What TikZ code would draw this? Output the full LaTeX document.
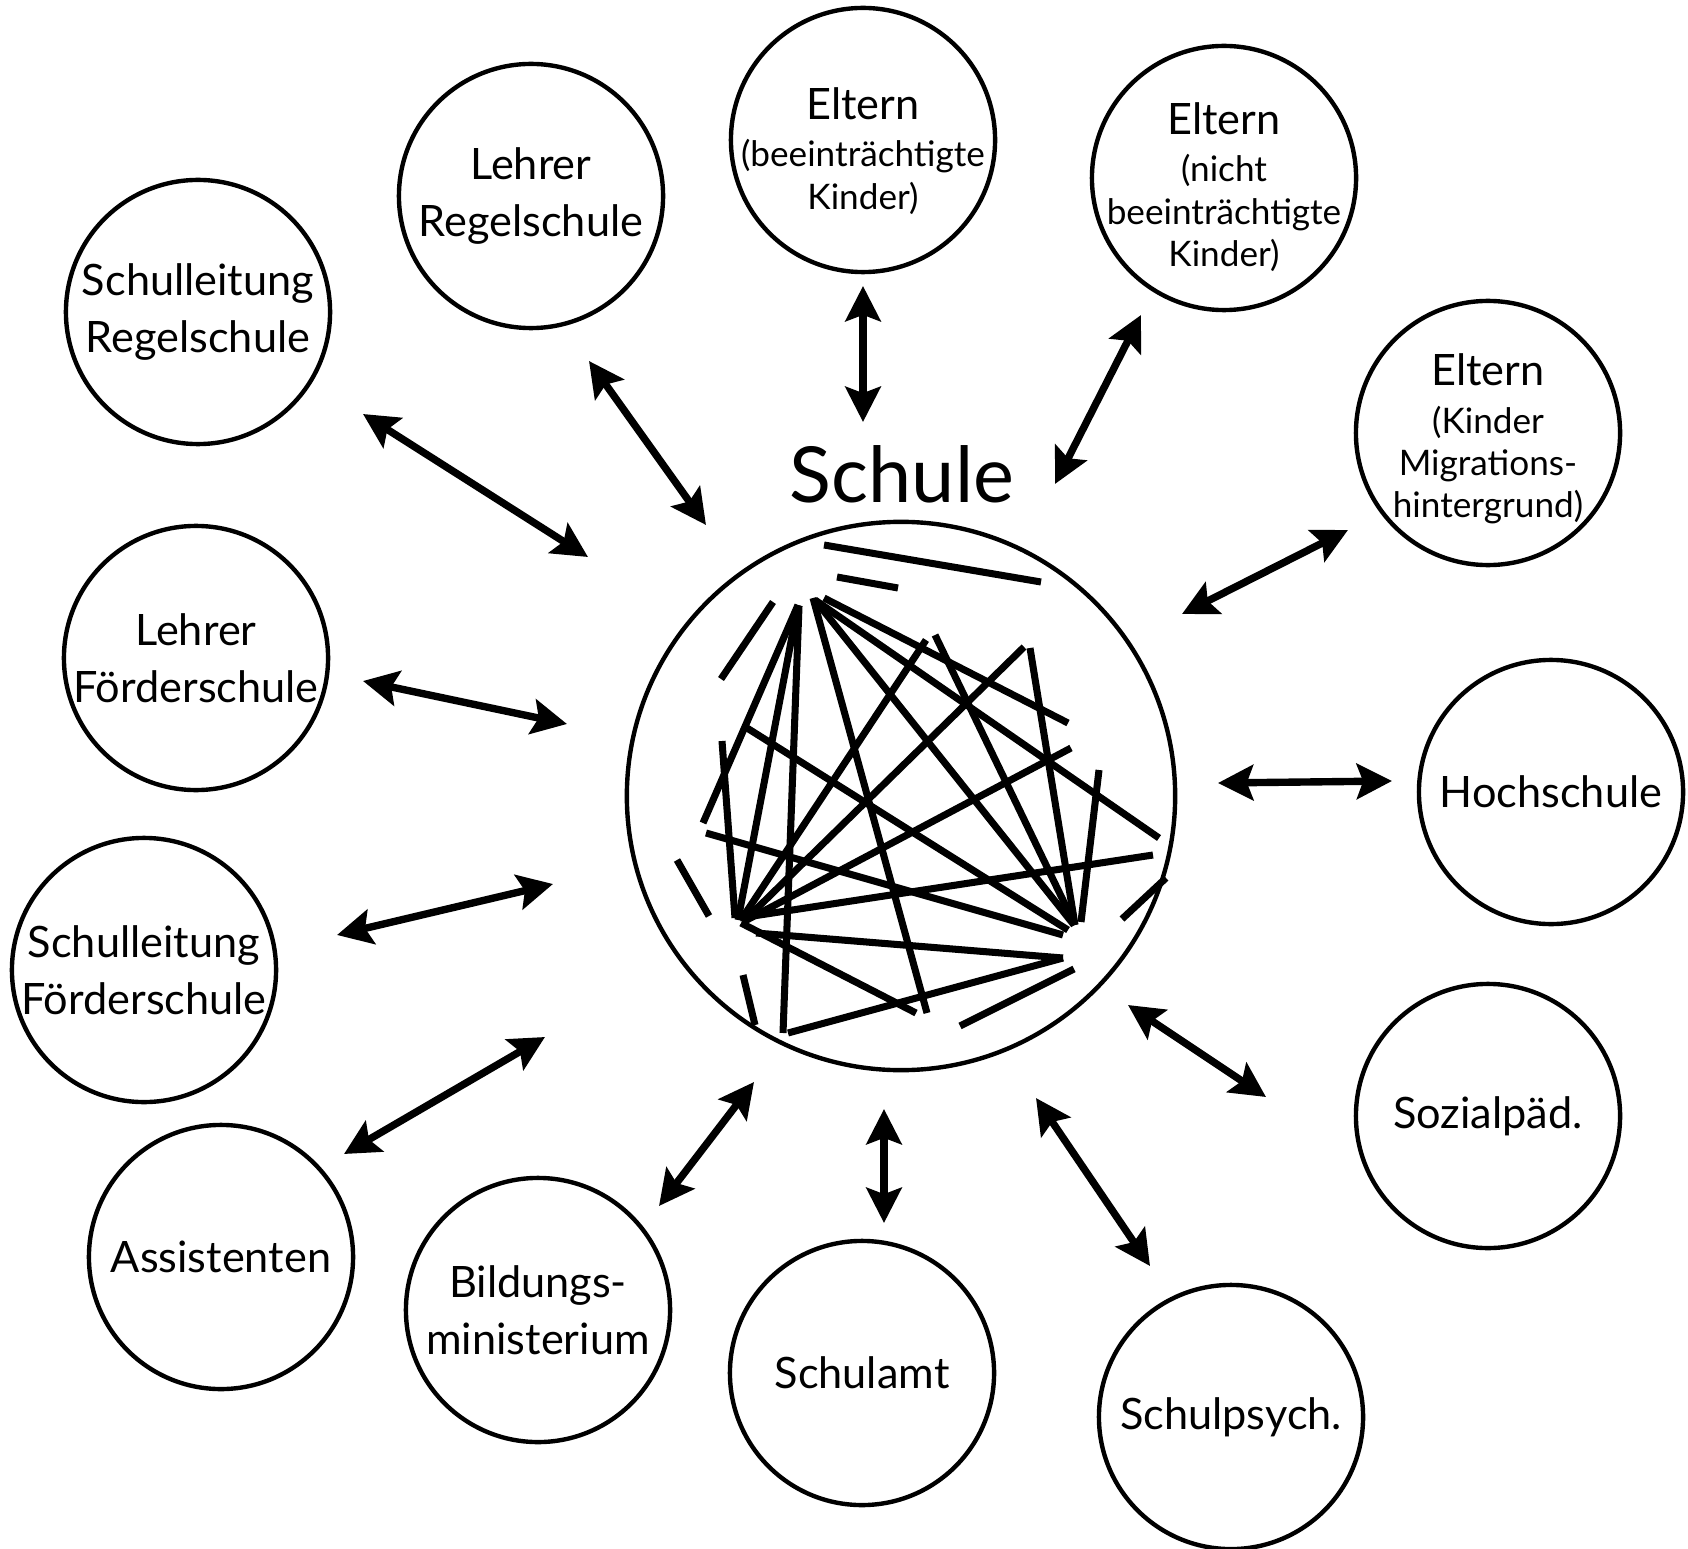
\documentclass[tikz,border=0pt]{standalone}
\usepackage{fontspec}
\setmainfont{Lato}
\usetikzlibrary{arrows.meta}
\newcommand{\gross}{\fontsize{12.3}{16.2}\selectfont}
\newcommand{\klein}{\fontsize{10}{12}\selectfont}

\begin{document}
\begin{tikzpicture}[x=0.01cm, y=-0.01cm,
  akteur/.style={circle, draw, line width=1.25pt, minimum size=2.64cm, inner sep=-20pt, align=center, font=\gross},
  elterntext/.style={align=center, inner sep=0pt, font=\klein},
  pfeil/.style={{Stealth[length=10pt,width=10pt,inset=1.8pt]}-{Stealth[length=10pt,width=10pt,inset=1.8pt]}, line width=2.1pt},
  netz/.style={line width=2pt}]
\useasboundingbox (0,0) rectangle (1688,1549);
% school in the middle
\node[font=\fontsize{22}{26}\selectfont] (schule) at (902,474) {Schule};
\node[circle, draw, line width=1.25pt, minimum size=5.48cm] (kreis) at (901,796) {};
% actors around it
\node[akteur] (slr) at (198,312) {Schulleitung\\Regelschule};
\node[akteur] (lr) at (531,196) {Lehrer\\Regelschule};
\node[akteur] (el1) at (863,140) {};
\node[elterntext] (el1-t) at (863,151) {{\gross Eltern}\\[1.5pt](beeinträchtigte\\Kinder)};
\node[akteur] (el2) at (1224,178) {};
\node[elterntext] (el2-t) at (1224,187) {{\gross Eltern}\\[1.5pt](nicht\\beeinträchtigte\\Kinder)};
\node[akteur] (el3) at (1488,433) {};
\node[elterntext] (el3-t) at (1488,439) {{\gross Eltern}\\[1.5pt](Kinder\\Migrations-\\hintergrund)};
\node[akteur] (hs) at (1551,792) {Hochschule};
\node[akteur] (sp) at (1488,1116) {Sozialpäd.};
\node[akteur] (psy) at (1231,1417) {Schulpsych.};
\node[akteur] (sa) at (862,1373) {Schulamt};
\node[akteur] (bm) at (538,1310) {Bildungs-\\ministerium};
\node[akteur] (as) at (221,1257) {Assistenten};
\node[akteur] (slf) at (144,970) {Schulleitung\\Förderschule};
\node[akteur] (lf) at (196,658) {Lehrer\\Förderschule};
% arrow ends
\coordinate (slr-a) at (363,414);  \coordinate (slr-b) at (588,557);
\coordinate (lr-a) at (589,361);   \coordinate (lr-b) at (706,525);
\coordinate (el1-a) at (863,286);  \coordinate (el1-b) at (863,422);
\coordinate (el2-a) at (1141,315); \coordinate (el2-b) at (1055,484);
\coordinate (el3-a) at (1348,530); \coordinate (el3-b) at (1182,614);
\coordinate (hs-a) at (1392,781);  \coordinate (hs-b) at (1218,783);
\coordinate (sp-a) at (1266,1097); \coordinate (sp-b) at (1128,1005);
\coordinate (psy-a) at (1150,1266);\coordinate (psy-b) at (1036,1098);
\coordinate (sa-a) at (884,1223);  \coordinate (sa-b) at (884,1109);
\coordinate (bm-a) at (659,1206);  \coordinate (bm-b) at (754,1082);
\coordinate (as-a) at (344,1154);  \coordinate (as-b) at (545,1037);
\coordinate (slf-a) at (337,935);  \coordinate (slf-b) at (553,884);
\coordinate (lf-a) at (363,681);   \coordinate (lf-b) at (567,724);
\draw[pfeil] (slr-a) -- (slr-b);
\draw[pfeil] (lr-a) -- (lr-b);
\draw[pfeil] (el1-a) -- (el1-b);
\draw[pfeil] (el2-a) -- (el2-b);
\draw[pfeil] (el3-a) -- (el3-b);
\draw[pfeil] (hs-a) -- (hs-b);
\draw[pfeil] (sp-a) -- (sp-b);
\draw[pfeil] (psy-a) -- (psy-b);
\draw[pfeil] (sa-a) -- (sa-b);
\draw[pfeil] (bm-a) -- (bm-b);
\draw[pfeil] (as-a) -- (as-b);
\draw[pfeil] (slf-a) -- (slf-b);
\draw[pfeil] (lf-a) -- (lf-b);
% tangle inside the school
\draw[netz] (824,545) -- (1041,582);
\draw[netz] (837,577) -- (898,588);
\draw[netz] (773,602) -- (721,679);
\draw[netz] (798,605) -- (703,823);
\draw[netz] (798,605) -- (738,920);
\draw[netz] (799,606) -- (783,1033);
\draw[netz] (813,598) -- (927,1013);
\draw[netz] (815,600) -- (1074,925);
\draw[netz] (815,600) -- (1159,838);
\draw[netz] (824,598) -- (1068,723);
\draw[netz] (935,635) -- (1075,925);
\draw[netz] (926,640) -- (741,920);
\draw[netz] (1024,647) -- (743,922);
\draw[netz] (1030,648) -- (1075,925);
\draw[netz] (1071,748) -- (743,922);
\draw[netz] (747,728) -- (1068,930);
\draw[netz] (722,741) -- (735,918);
\draw[netz] (706,833) -- (1063,935);
\draw[netz] (1153,855) -- (740,918);
\draw[netz] (1099,770) -- (1081,922);
\draw[netz] (741,923) -- (916,1013);
\draw[netz] (756,933) -- (1063,958);
\draw[netz] (1063,958) -- (788,1033);
\draw[netz] (1074,969) -- (960,1026);
\draw[netz] (677,860) -- (709,916);
\draw[netz] (743,975) -- (755,1025);
\draw[netz] (1122,919) -- (1166,878);
\end{tikzpicture}
\end{document}
